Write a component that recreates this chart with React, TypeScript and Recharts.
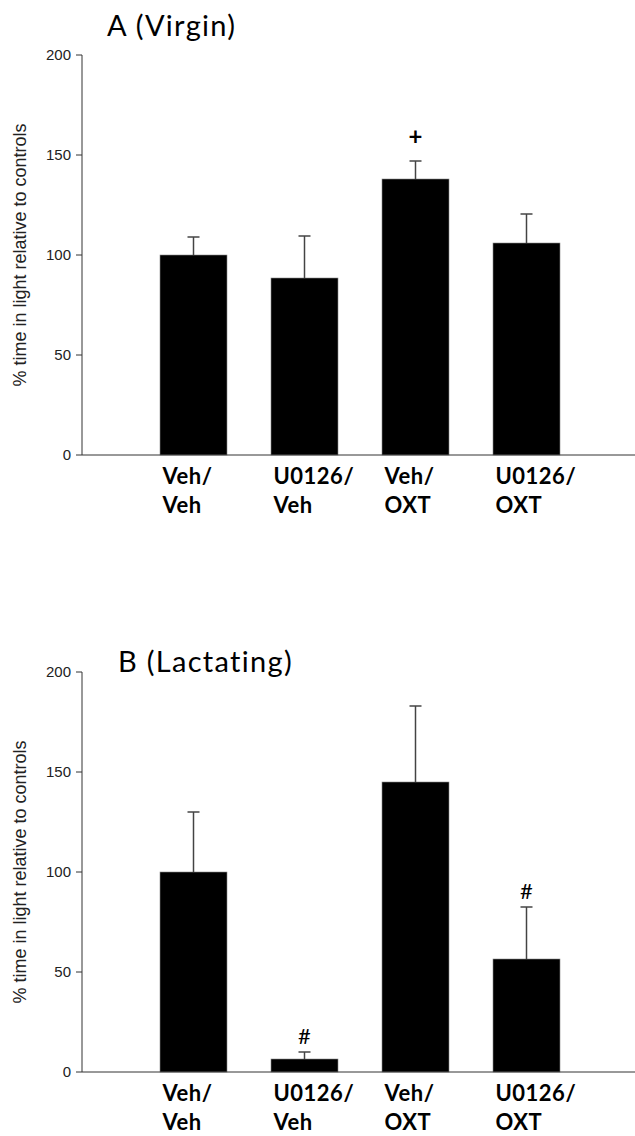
import { BarChart, Bar, XAxis, YAxis } from 'recharts';

const groups = ['Veh/Veh', 'U0126/Veh', 'Veh/OXT', 'U0126/OXT'];
const virginMean = [100, 88.5, 138, 106];
const virginSem = [9, 21, 9, 14.5];
const virginMarks = ['', '', '+', ''];
const lactatingMean = [100, 6.5, 145, 56.5];
const lactatingSem = [30, 3.5, 38, 26];
const lactatingMarks = ['', '#', '', '#'];
const yTicks = [0, 50, 100, 150, 200];

const build = (means: number[], sems: number[], marks: string[]) =>
  groups.map((g, i) => ({ name: g, value: means[i], sem: sems[i], mark: marks[i] }));

const virginData = build(virginMean, virginSem, virginMarks);
const lactatingData = build(lactatingMean, lactatingSem, lactatingMarks);

function BarWithError(props: any) {
  const { x, y, width, height, payload } = props;
  const perUnit = payload.value ? height / payload.value : 0;
  const top = y - payload.sem * perUnit;
  const cx = x + width / 2;
  const isPlus = payload.mark === '+';
  return (
    <g>
      <rect x={x} y={y} width={width} height={height} fill="#000" stroke="#888" strokeWidth={0.6} />
      <line x1={cx} x2={cx} y1={y} y2={top} stroke="#444" strokeWidth={1.5} />
      <line x1={cx - 6} x2={cx + 6} y1={top} y2={top} stroke="#444" strokeWidth={1.5} />
      {payload.mark && (
        <text
          x={cx}
          y={top - (isPlus ? 16 : 8)}
          textAnchor="middle"
          fontFamily="Lato, sans-serif"
          fontWeight={isPlus ? 700 : 400}
          fontSize={isPlus ? 24 : 22}
          fill="#000"
        >
          {payload.mark}
        </text>
      )}
    </g>
  );
}

function GroupTick(props: any) {
  const { x, y, payload } = props;
  const [a, b] = String(payload.value).split('/');
  const style = { fontFamily: 'Lato, sans-serif', fontWeight: 700, fontSize: 22, letterSpacing: 0.5 };
  return (
    <g>
      <text x={x - 31} y={y + 21} style={style} fill="#000">
        {a}/
      </text>
      <text x={x - 31} y={y + 50} style={style} fill="#000">
        {b}
      </text>
    </g>
  );
}

function YLabel(props: any) {
  const { viewBox } = props;
  const cx = 20;
  const cy = viewBox.y + viewBox.height / 2;
  return (
    <text
      x={cx}
      y={cy}
      transform={`rotate(-90, ${cx}, ${cy})`}
      textAnchor="middle"
      dominantBaseline="central"
      fontFamily="'Liberation Sans', Arial, sans-serif"
      fontSize={18}
      fill="#222"
    >
      % time in light relative to controls
    </text>
  );
}

function Panel({ data, top, height, marginTop }: { data: any[]; top: number; height: number; marginTop: number }) {
  return (
    <div style={{ position: 'absolute', left: 0, top }}>
      <BarChart width={635} height={height} data={data} margin={{ top: marginTop, right: 0, bottom: 0, left: 0 }}>
        <YAxis
          domain={[0, 200]}
          ticks={yTicks}
          width={82}
          tickSize={6}
          tickMargin={5}
          interval={0}
          axisLine={{ stroke: '#333' }}
          tickLine={{ stroke: '#333' }}
          tick={{ fontFamily: "'Liberation Sans', Arial, sans-serif", fontSize: 15, fill: '#222' }}
          label={<YLabel />}
        />
        <XAxis
          dataKey="name"
          height={height - marginTop - 400}
          padding={{ left: 56, right: 53 }}
          axisLine={{ stroke: '#333' }}
          tickLine={false}
          interval={0}
          tick={<GroupTick />}
        />
        <Bar dataKey="value" barSize={67} shape={<BarWithError />} isAnimationActive={false} />
      </BarChart>
    </div>
  );
}

export default function App() {
  const titleStyle: React.CSSProperties = {
    position: 'absolute',
    fontFamily: 'Lato, sans-serif',
    fontSize: 29,
    letterSpacing: 1.3,
    color: '#000',
    whiteSpace: 'nowrap',
    lineHeight: 1,
  };
  return (
    <div style={{ position: 'absolute', left: 0, top: 0, width: 635, height: 1136, background: '#fff' }}>
      <Panel data={virginData} top={0} height={530} marginTop={55} />
      <Panel data={lactatingData} top={600} height={536} marginTop={72} />
      <div style={{ ...titleStyle, left: 107, top: 10 }}>A (Virgin)</div>
      <div style={{ ...titleStyle, left: 118, top: 646 }}>B (Lactating)</div>
    </div>
  );
}
